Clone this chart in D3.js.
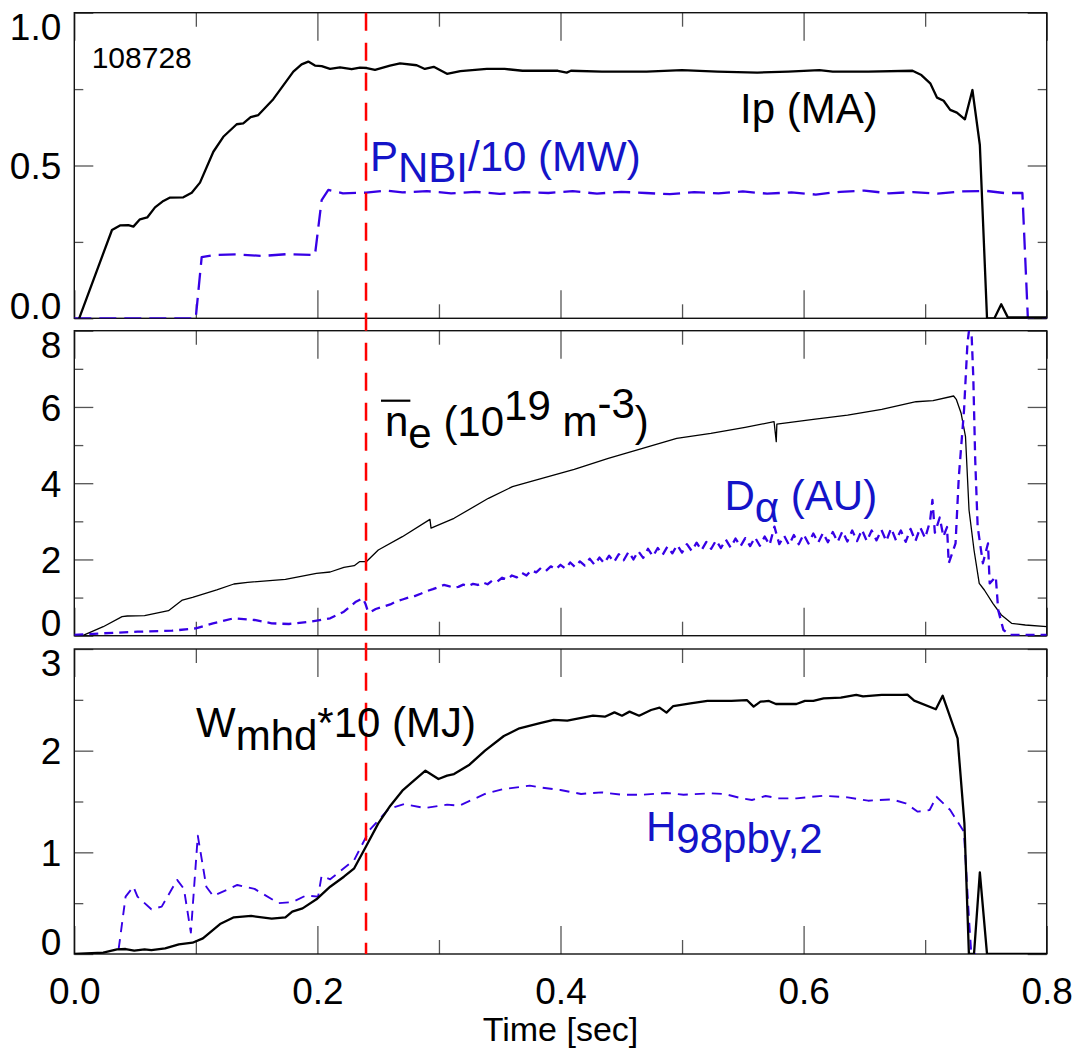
<!DOCTYPE html>
<html>
<head>
<meta charset="utf-8">
<script src="https://cdn.jsdelivr.net/npm/d3@7"></script>
<style>
  body { margin: 0; background: #fff; }
  svg { display: block; font-family: "Liberation Sans", Arial, Helvetica, sans-serif; }
  text { white-space: pre; }
</style>
</head>
<body>
<div id="chart"></div>
<script>
// time axis ticks (sec)
const timeMajor = [0, 0.2, 0.4, 0.6, 0.8];
const timeMinor = [0.1, 0.3, 0.5, 0.7];
const markTime = 0.24;
const shotNumber = "108728";

const ipTicksMajor = [0, 0.5, 1.0];
const ipTicksMinor = [0.25, 0.75];
const neTicksMajor = [0, 2, 4, 6, 8];
const neTicksMinor = [1, 3, 5, 7];
const wTicksMajor = [0, 1, 2, 3];
const wTicksMinor = [0.5, 1.5, 2.5];

// [time, value]
const ipData = [
    [0.004, 0], [0.031, 0.289], [0.0376, 0.304], [0.0445, 0.305], [0.0486, 0.300], [0.054, 0.324],
    [0.060, 0.330], [0.0664, 0.363], [0.0733, 0.384], [0.0788, 0.395], [0.0897, 0.396], [0.0966, 0.411],
    [0.1034, 0.444], [0.1144, 0.545], [0.1226, 0.594], [0.1336, 0.635], [0.139, 0.638], [0.1451, 0.658],
    [0.1514, 0.665], [0.1637, 0.717], [0.1802, 0.807], [0.187, 0.831], [0.1925, 0.840], [0.198, 0.827],
    [0.2035, 0.825], [0.2104, 0.816], [0.2186, 0.821], [0.2282, 0.815], [0.235, 0.820], [0.2406, 0.819],
    [0.2474, 0.813], [0.2597, 0.827], [0.268, 0.834], [0.2817, 0.828], [0.2884, 0.816], [0.2957, 0.823],
    [0.3066, 0.800], [0.3176, 0.809], [0.3394, 0.816], [0.354, 0.816], [0.3687, 0.810], [0.3978, 0.810],
    [0.4051, 0.804], [0.4086, 0.810], [0.4341, 0.807], [0.4708, 0.807], [0.4999, 0.812], [0.5291, 0.807],
    [0.5619, 0.804], [0.5874, 0.807], [0.613, 0.812], [0.624, 0.807], [0.6531, 0.807], [0.6896, 0.810],
    [0.6969, 0.796], [0.7042, 0.769], [0.7098, 0.722], [0.7152, 0.712], [0.7206, 0.682], [0.7261, 0.673],
    [0.7327, 0.651], [0.7389, 0.747], [0.745, 0.567], [0.7509, 0], [0.757, 0], [0.7626, 0.046],
    [0.768, 0.003], [0.8, 0.003]
];

const pnbiData = [
    [0, 0], [0.0999, 0], [0.1048, 0.200], [0.115, 0.207], [0.133, 0.209], [0.155, 0.204], [0.175, 0.210],
    [0.198, 0.207], [0.2035, 0.387], [0.209, 0.420], [0.221, 0.409], [0.24, 0.411], [0.256, 0.418],
    [0.27, 0.412], [0.29, 0.416], [0.31, 0.409], [0.33, 0.414], [0.35, 0.407], [0.37, 0.413], [0.39, 0.410],
    [0.41, 0.416], [0.43, 0.408], [0.45, 0.414], [0.47, 0.410], [0.49, 0.406], [0.51, 0.413], [0.53, 0.409],
    [0.55, 0.415], [0.57, 0.408], [0.59, 0.412], [0.61, 0.405], [0.63, 0.414], [0.65, 0.418], [0.67, 0.409],
    [0.69, 0.413], [0.71, 0.408], [0.73, 0.415], [0.75, 0.417], [0.765, 0.410], [0.780, 0.410],
    [0.7845, 0], [0.8, 0]
];

const neData = [
    [0.005, 0], [0.0082, 0.02], [0.0238, 0.236], [0.0393, 0.50], [0.0436, 0.517], [0.0578, 0.525],
    [0.0775, 0.656], [0.0889, 0.936], [0.0973, 1.007], [0.1172, 1.199], [0.1313, 1.356], [0.1426, 1.40],
    [0.1737, 1.479], [0.1992, 1.636], [0.2105, 1.671], [0.2218, 1.794], [0.2303, 1.836], [0.2346, 1.941],
    [0.2402, 1.941], [0.2501, 2.248], [0.2699, 2.597], [0.2926, 3.05], [0.2935, 2.82], [0.3124, 3.079],
    [0.3407, 3.604], [0.3605, 3.909], [0.3803, 4.084], [0.4113, 4.364], [0.4393, 4.653], [0.4675, 4.915],
    [0.4956, 5.177], [0.5237, 5.308], [0.5519, 5.465], [0.5757, 5.613], [0.5775, 5.09], [0.578, 5.55],
    [0.608, 5.675], [0.6362, 5.788], [0.6643, 5.937], [0.6925, 6.137], [0.7065, 6.164], [0.7234, 6.287],
    [0.7256, 6.2], [0.7296, 5.833], [0.7332, 5.22], [0.7361, 3.297], [0.7402, 2.248], [0.7445, 1.374],
    [0.7487, 1.199], [0.7557, 0.85], [0.7627, 0.543], [0.7711, 0.325], [0.7824, 0.281], [0.8, 0.236]
];

const dalphaData = [
    [0, 0.02], [0.0238, 0.063], [0.052, 0.105], [0.0804, 0.131], [0.1, 0.194], [0.1141, 0.325],
    [0.1311, 0.456], [0.1483, 0.412], [0.1624, 0.325], [0.1766, 0.307], [0.1935, 0.367], [0.2105, 0.456],
    [0.2218, 0.63], [0.2317, 0.892], [0.2374, 0.98], [0.2395, 0.84], [0.2416, 0.63],
    [0.244, 0.63], [0.248, 0.70], [0.252, 0.74], [0.256, 0.78], [0.260, 0.82], [0.265, 0.90], [0.270, 0.95],
    [0.275, 1.00], [0.280, 1.04], [0.285, 1.10], [0.290, 1.17], [0.295, 1.22], [0.300, 1.28], [0.304, 1.33],
    [0.308, 1.30], [0.312, 1.26], [0.316, 1.28], [0.320, 1.34], [0.324, 1.30], [0.328, 1.36], [0.332, 1.33],
    [0.336, 1.40], [0.340, 1.35], [0.344, 1.45], [0.348, 1.42], [0.352, 1.52], [0.356, 1.47], [0.360, 1.58],
    [0.364, 1.53], [0.368, 1.65], [0.372, 1.58], [0.376, 1.72], [0.380, 1.66], [0.384, 1.78], [0.388, 1.70],
    [0.392, 1.82], [0.396, 1.74], [0.400, 1.86], [0.404, 1.76], [0.408, 1.92], [0.412, 1.80], [0.416, 1.95],
    [0.420, 1.84], [0.424, 2.02], [0.428, 1.86], [0.432, 2.05], [0.436, 1.90], [0.440, 2.10], [0.444, 1.93],
    [0.448, 2.14], [0.452, 1.98], [0.456, 2.20], [0.460, 2.00], [0.464, 2.22], [0.468, 2.04], [0.472, 2.28],
    [0.476, 2.08], [0.480, 2.30], [0.484, 2.12], [0.488, 2.34], [0.492, 2.16], [0.496, 2.38], [0.500, 2.18],
    [0.504, 2.40], [0.508, 2.22], [0.512, 2.44], [0.516, 2.24], [0.520, 2.46], [0.524, 2.28], [0.528, 2.50],
    [0.532, 2.30], [0.536, 2.52], [0.540, 2.31], [0.544, 2.55], [0.548, 2.34], [0.552, 2.56], [0.556, 2.35],
    [0.560, 2.58], [0.564, 2.36], [0.568, 2.60], [0.572, 2.38], [0.576, 2.86], [0.580, 2.40], [0.584, 2.62],
    [0.588, 2.38], [0.592, 2.64], [0.596, 2.40], [0.600, 2.66], [0.604, 2.42], [0.608, 2.68], [0.612, 2.44],
    [0.616, 2.70], [0.620, 2.45], [0.624, 2.72], [0.628, 2.46], [0.632, 2.74], [0.636, 2.47], [0.640, 2.76],
    [0.644, 2.48], [0.648, 2.78], [0.652, 2.48], [0.656, 2.76], [0.660, 2.50], [0.664, 2.78], [0.668, 2.48],
    [0.672, 2.82], [0.676, 2.50], [0.680, 2.76], [0.684, 2.46], [0.688, 2.80], [0.692, 2.48], [0.696, 2.84],
    [0.700, 2.56], [0.704, 3.00], [0.706, 3.56], [0.708, 2.70], [0.712, 3.10], [0.715, 2.60], [0.718, 2.85],
    [0.7194, 1.90], [0.725, 2.42], [0.7277, 4.17], [0.732, 5.92], [0.7348, 7.67], [0.7376, 8.4],
    [0.7396, 6.79], [0.7412, 4.6], [0.7432, 2.86], [0.7475, 1.9], [0.7517, 2.42], [0.7531, 1.37],
    [0.7581, 1.55], [0.7601, 0.67], [0.7644, 0.15], [0.77, 0.02], [0.8, 0.02]
];

const wmhdData = [
    [0, 0], [0.0238, 0.013], [0.0351, 0.046], [0.0422, 0.049], [0.0493, 0.033], [0.0578, 0.046],
    [0.0634, 0.039], [0.0747, 0.056], [0.086, 0.095], [0.0973, 0.111], [0.1058, 0.154], [0.1199, 0.295],
    [0.1313, 0.361], [0.1455, 0.374], [0.1624, 0.348], [0.1737, 0.361], [0.1793, 0.416], [0.1878, 0.449],
    [0.1992, 0.538], [0.2105, 0.662], [0.2218, 0.760], [0.2303, 0.843], [0.2402, 1.062], [0.2501, 1.285],
    [0.26, 1.459], [0.2699, 1.606], [0.2784, 1.695], [0.2889, 1.803], [0.2996, 1.721], [0.3067, 1.754],
    [0.3124, 1.770], [0.3251, 1.862], [0.3379, 2.0], [0.3534, 2.144], [0.3662, 2.22], [0.3831, 2.27],
    [0.3944, 2.302], [0.4056, 2.295], [0.4267, 2.344], [0.4365, 2.334], [0.4444, 2.377], [0.4506, 2.344],
    [0.4568, 2.384], [0.4647, 2.344], [0.4745, 2.40], [0.4815, 2.423], [0.4872, 2.374], [0.4928, 2.439],
    [0.5069, 2.466], [0.5209, 2.489], [0.5406, 2.489], [0.5533, 2.498], [0.5589, 2.433], [0.5645, 2.482],
    [0.5715, 2.489], [0.5772, 2.459], [0.5941, 2.459], [0.6011, 2.489], [0.608, 2.489], [0.6165, 2.515],
    [0.6306, 2.521], [0.6433, 2.548], [0.6489, 2.534], [0.6643, 2.548], [0.6812, 2.548], [0.6854, 2.551],
    [0.691, 2.492], [0.7088, 2.407], [0.7144, 2.541], [0.7267, 2.121], [0.7323, 1.285], [0.736, 0],
    [0.7402, 0], [0.745, 0.803], [0.7509, 0], [0.8, 0]
];

const h98Data = [
    [0.0365, 0.05], [0.0422, 0.564], [0.0486, 0.662], [0.052, 0.564], [0.0634, 0.44], [0.0719, 0.466],
    [0.0846, 0.729], [0.0902, 0.64], [0.0959, 0.21], [0.1016, 1.164], [0.1086, 0.662], [0.1143, 0.57],
    [0.1341, 0.679], [0.1483, 0.64], [0.1681, 0.50], [0.1793, 0.51], [0.1907, 0.576], [0.2006, 0.564],
    [0.2034, 0.767], [0.2105, 0.735], [0.2303, 0.925], [0.243, 1.22], [0.2586, 1.426], [0.2713, 1.475],
    [0.2883, 1.436], [0.3067, 1.469], [0.3167, 1.459], [0.3379, 1.574], [0.352, 1.62], [0.3747, 1.656],
    [0.3831, 1.639], [0.4, 1.613], [0.4169, 1.574], [0.4337, 1.59], [0.4506, 1.567], [0.4675, 1.567],
    [0.4872, 1.584], [0.5012, 1.567], [0.5237, 1.58], [0.5349, 1.574], [0.549, 1.531], [0.5575, 1.515],
    [0.5687, 1.554], [0.58, 1.531], [0.5941, 1.531], [0.6165, 1.557], [0.6362, 1.541], [0.6531, 1.508],
    [0.6727, 1.521], [0.684, 1.482], [0.6939, 1.40], [0.7037, 1.416], [0.7093, 1.547], [0.7206, 1.416],
    [0.7319, 1.203], [0.7361, 0.344], [0.738, 0], [0.7418, 0]
];

const black = "#000";
const blueLine = "#3700e6";
const blueText = "#1414c8";

document.addEventListener('DOMContentLoaded', init);

function init() {
    const svg = d3.select("#chart").append("svg")
        .attr("width", 1076)
        .attr("height", 1057);

    svg.append("rect").attr("width", 1076).attr("height", 1057).attr("fill", "#fff");

    const x = d3.scaleLinear().domain([0, 0.8]).range([74.3, 1046.7]);

    const panels = [
        { top: 12.7, bottom: 318.3, domain: [0, 1], major: ipTicksMajor, minor: ipTicksMinor, fmt: d3.format(".1f") },
        { top: 330.7, bottom: 635.7, domain: [0, 8], major: neTicksMajor, minor: neTicksMinor, fmt: d3.format("d") },
        { top: 649, bottom: 954, domain: [0, 3], major: wTicksMajor, minor: wTicksMinor, fmt: d3.format("d") }
    ];

    panels.forEach((p, i) => {
        p.y = d3.scaleLinear().domain(p.domain).range([p.bottom, p.top]);
        p.g = svg.append("g");

        svg.append("clipPath").attr("id", "clip" + i)
            .append("rect")
            .attr("x", x(0)).attr("y", p.top)
            .attr("width", x(0.8) - x(0)).attr("height", p.bottom - p.top);

        drawTicks(p, x);

        // y tick labels
        const yl = p.g.append("g")
            .attr("transform", `translate(${x(0)},0)`)
            .call(d3.axisLeft(p.y).tickValues(p.major).tickSize(0).tickPadding(13).tickFormat(p.fmt));
        yl.select(".domain").remove();
        yl.selectAll("text")
            .style("font-family", null)
            .style("font-size", "37px")
            .attr("fill", black)
            .attr("dy", d => d === p.domain[1] ? "0.72em" : d === p.domain[0] ? "0em" : "0.36em");

        p.g.append("rect")
            .attr("x", x(0)).attr("y", p.top)
            .attr("width", x(0.8) - x(0)).attr("height", p.bottom - p.top)
            .attr("fill", "none").attr("stroke", "#111").attr("stroke-width", 1.4);

        p.plot = p.g.append("g").attr("clip-path", `url(#clip${i})`);
    });

    const drawLine = (p, data, color, width, dash) => {
        const line = d3.line().x(d => x(d[0])).y(d => p.y(d[1]));
        p.plot.append("path")
            .datum(data)
            .attr("fill", "none")
            .attr("stroke", color)
            .attr("stroke-width", width)
            .attr("stroke-dasharray", dash)
            .attr("stroke-linejoin", "round")
            .attr("d", line);
    };

    drawLine(panels[0], pnbiData, blueLine, 2.3, "17,8");
    drawLine(panels[0], ipData, black, 2.3, null);
    drawLine(panels[1], neData, black, 1.3, null);
    drawLine(panels[1], dalphaData, blueLine, 2.3, "9,6");
    drawLine(panels[2], h98Data, blueLine, 1.9, "10,7");
    drawLine(panels[2], wmhdData, black, 2.3, null);

    // vertical marker
    svg.append("line")
        .attr("x1", x(markTime)).attr("x2", x(markTime))
        .attr("y1", panels[0].top).attr("y2", panels[2].bottom)
        .attr("stroke", "#ff0000")
        .attr("stroke-width", 2.5)
        .attr("stroke-dasharray", "18,12");

    // bottom time labels
    const xl = svg.append("g")
        .attr("transform", `translate(0,${panels[2].bottom})`)
        .call(d3.axisBottom(x).tickValues(timeMajor).tickSize(0).tickPadding(24).tickFormat(d3.format(".1f")));
    xl.select(".domain").remove();
    xl.selectAll("text").style("font-family", null).style("font-size", "37px").attr("fill", black);

    svg.append("text")
        .attr("x", x(0.4)).attr("y", 1041)
        .attr("text-anchor", "middle")
        .style("font-size", "34px")
        .text("Time [sec]");

    svg.append("text")
        .attr("x", 91.7).attr("y", 68.3)
        .style("font-size", "30px")
        .text(shotNumber);

    drawLabel(svg, 740, 123, [{ text: "Ip (MA)" }], black);
    drawLabel(svg, 370, 171, [{ text: "P" }, { text: "NBI", shift: 11 }, { text: "/10 (MW)" }], blueText);
    const ne = drawLabel(svg, 385, 436,
        [{ text: "n" }, { text: "e", shift: 12 }, { text: " (10" }, { text: "19", shift: -16 }, { text: " m" }, { text: "-3", shift: -18 }, { text: ")" }],
        black);
    const nBox = ne.node().getExtentOfChar(0);
    svg.append("line")
        .attr("x1", nBox.x - 4).attr("x2", nBox.x + nBox.width + 2)
        .attr("y1", 400.7).attr("y2", 400.7)
        .attr("stroke", black).attr("stroke-width", 2.2);
    drawLabel(svg, 724.5, 510, [{ text: "D" }, { text: "\u03b1", shift: 12 }, { text: " (AU)" }], blueText);
    drawLabel(svg, 196, 736.7, [{ text: "W" }, { text: "mhd", shift: 13 }, { text: "*10 (MJ)" }], black);
    drawLabel(svg, 646, 840.7, [{ text: "H" }, { text: "98pby,2", shift: 12 }], blueText);
}

function drawTicks(p, x) {
    const tickStyle = sel => {
        sel.select(".domain").remove();
        sel.selectAll("line").attr("stroke", "#555").attr("stroke-width", 1.3);
    };
    const specs = [
        [d3.axisBottom(x).tickValues(timeMajor).tickSize(-28), `translate(0,${p.bottom})`],
        [d3.axisBottom(x).tickValues(timeMinor).tickSize(-14), `translate(0,${p.bottom})`],
        [d3.axisTop(x).tickValues(timeMajor).tickSize(-28), `translate(0,${p.top})`],
        [d3.axisTop(x).tickValues(timeMinor).tickSize(-14), `translate(0,${p.top})`],
        [d3.axisLeft(p.y).tickValues(p.major).tickSize(-19), `translate(${x(0)},0)`],
        [d3.axisLeft(p.y).tickValues(p.minor).tickSize(-9), `translate(${x(0)},0)`],
        [d3.axisRight(p.y).tickValues(p.major).tickSize(-19), `translate(${x(0.8)},0)`],
        [d3.axisRight(p.y).tickValues(p.minor).tickSize(-9), `translate(${x(0.8)},0)`]
    ];
    specs.forEach(([axis, tr]) => {
        const a = p.g.append("g").attr("transform", tr).call(axis.tickFormat(""));
        tickStyle(a);
    });
}

function drawLabel(svg, x, y, parts, color) {
    const text = svg.append("text")
        .attr("x", x).attr("y", y)
        .attr("fill", color)
        .style("font-size", "42px");
    let shift = 0;
    parts.forEach(p => {
        const s = p.shift || 0;
        text.append("tspan").attr("dy", s - shift).text(p.text);
        shift = s;
    });
    return text;
}
</script>
</body>
</html>
